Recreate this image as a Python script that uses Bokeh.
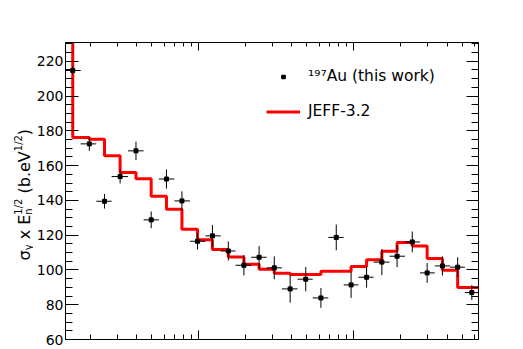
import math
from bokeh.plotting import figure
from bokeh.layouts import row
from bokeh.models import (Range1d, FixedTicker, LogAxis, LinearAxis, Legend,
                          LegendItem, ColumnDataSource)
from bokeh.core.properties import value
from bokeh.embed import file_html
from bokeh.resources import INLINE

# ---------------- data ----------------
# measured points: energy bin centre, bin edges, value, error
au_x = [1.547, 1.978, 2.478, 3.124, 3.953, 4.953, 6.214, 7.818, 9.853, 12.29,
        15.56, 19.61, 24.57, 30.77, 38.95, 49.09, 61.5, 77.2, 96.2, 121.1,
        151.9, 190.4, 238.5, 297.4, 373.3, 467.7, 577.2]
au_edges = [1.389, 1.740, 2.193, 2.755, 3.513, 4.429, 5.547, 6.992, 8.796, 11.09,
            13.89, 17.32, 21.83, 27.43, 34.46, 43.44, 54.42, 68.59, 86.20, 107.2,
            134.3, 170.0, 214.1, 267.2, 333.2, 417.4, 520.8, 650.0]
au_y = [214.7, 172.5, 139.5, 153.7, 168.5, 128.8, 152.3, 139.7, 116.5, 119.6,
        110.9, 102.7, 107.3, 101.2, 89.1, 94.7, 83.9, 118.7, 91.4, 95.8,
        104.5, 107.9, 116.1, 98.3, 102.3, 101.6, 87.0]
au_err = [2.5, 4.0, 4.2, 4.0, 5.3, 4.8, 5.5, 5.5, 4.8, 6.2,
          5.5, 5.9, 6.4, 6.6, 7.9, 7.0, 5.7, 7.4, 7.5, 6.0,
          7.5, 6.3, 6.0, 5.7, 5.5, 5.7, 4.3]

# JEFF-3.2 evaluation (step histogram): left edges and levels
jeff_edges = [1.2, 1.547, 1.978, 2.478, 3.124, 3.953, 4.953, 6.214, 7.818, 9.853,
              12.29, 15.56, 19.61, 24.57, 30.77, 38.95, 49.09, 61.5, 77.2, 96.2,
              121.1, 151.9, 190.4, 238.5, 297.4, 373.3, 467.7, 577.2, 700.0]
jeff_y = [260.0, 176.2, 175.2, 165.6, 156.0, 152.4, 142.4, 134.9, 123.4, 117.3,
          111.8, 107.5, 103.3, 100.4, 98.1, 97.4, 97.4, 99.3, 99.3, 102.0,
          105.8, 110.8, 115.8, 113.7, 106.6, 99.8, 89.9, 89.9, 89.9]

y_major_ticks = [60, 80, 100, 120, 140, 160, 180, 200, 220]
y_minor_ticks = list(range(60, 231, 5))
x_major_ticks = [10, 100]
x_minor_ticks = [m * 10 ** k for k in (0, 1, 2) for m in range(2, 10)]

legend_au = "¹⁹⁷Au (this work)"
legend_jeff = "JEFF-3.2"

# y-axis title pieces: (text, kind) kind = main / sub / sup
NB = "\u00a0"
title_pieces = [("σ", "main"), ("γ", "sub"), (NB + "x E", "main"), ("n", "sub"),
                ("1/2", "sup"), (NB + "(b.eV", "main"), ("1/2", "sup"), (")", "main")]

FONT = "DejaVu Sans"
H = 346
TOP, BOTTOM = 42, 7

# ---------------- title strip (left) ----------------
TW = 33
tf = figure(width=TW, height=H, x_range=Range1d(0, TW),
            y_range=Range1d(BOTTOM, H - TOP),
            title=None, output_backend="svg", toolbar_location=None,
            x_axis_location=None, y_axis_location=None,
            min_border_left=0, min_border_right=0,
            min_border_top=TOP, min_border_bottom=BOTTOM,
            outline_line_color=None)
tf.xgrid.visible = False
tf.ygrid.visible = False

base_x = {"main": 24.0, "sub": 27.5, "sup": 17.5}
sizes = {"main": 16, "sub": 10, "sup": 10}
avg_w = {"σ": 0.634, "γ": 0.592, NB + "x E": 1.86, "n": 0.634, "1/2": 1.609,
         NB + "(b.eV": 2.96, ")": 0.39}
pos = H - 260.0          # start of the title (bottom end), in strip coords
for txt, kind in title_pieces:
    tf.text(x=[base_x[kind]], y=[pos], text=[txt], angle=math.pi / 2,
            text_font=value(FONT), text_font_size=value(f"{sizes[kind]}px"),
            text_align="left", text_baseline="alphabetic", text_color="black")
    if not (kind == "sub" and txt == "n"):
        pos += avg_w[txt] * sizes[kind]

# ---------------- main figure ----------------
p = figure(width=490, height=H, x_axis_type="log",
           x_range=Range1d(1.389, 637.3), y_range=Range1d(60, 230.8),
           output_backend="svg", toolbar_location=None,
           min_border_left=62 - TW, min_border_right=490 - (62 - TW) - 416,
           min_border_top=TOP, min_border_bottom=BOTTOM)
p.xgrid.visible = False
p.ygrid.visible = False
p.outline_line_color = "black"
p.outline_line_width = 1


def style_axis(ax, ticker, major_in, minor_in, labels):
    ax.ticker = ticker
    ax.axis_line_color = "black"
    ax.major_tick_line_color = "black"
    ax.minor_tick_line_color = "black"
    ax.major_tick_out = 0
    ax.minor_tick_out = 0
    ax.major_tick_in = major_in
    ax.minor_tick_in = minor_in
    if labels:
        ax.major_label_text_font = FONT
        ax.major_label_text_font_size = "14px"
        ax.major_label_text_color = "black"
        ax.major_label_standoff = 2
    else:
        ax.major_label_text_font_size = "1px"
        ax.major_label_text_alpha = 0
        ax.major_label_standoff = 0


style_axis(p.xaxis[0], FixedTicker(ticks=x_major_ticks, minor_ticks=x_minor_ticks), 9, 5, False)
style_axis(p.yaxis[0], FixedTicker(ticks=y_major_ticks, minor_ticks=y_minor_ticks), 13, 7, True)
top_ax = LogAxis()
style_axis(top_ax, FixedTicker(ticks=x_major_ticks, minor_ticks=x_minor_ticks), 8, 4, False)
p.add_layout(top_ax, "above")
right_ax = LinearAxis()
style_axis(right_ax, FixedTicker(ticks=y_major_ticks, minor_ticks=y_minor_ticks), 12, 7, False)
p.add_layout(right_ax, "right")

# JEFF step
jeff = p.step(x=jeff_edges, y=jeff_y, mode="after", line_color="#ff0000", line_width=3)

# data with error bars
src = ColumnDataSource(dict(
    x=au_x, y=au_y,
    xlo=au_edges[:-1], xhi=au_edges[1:],
    ylo=[v - e for v, e in zip(au_y, au_err)],
    yhi=[v + e for v, e in zip(au_y, au_err)],
))
p.segment(x0="xlo", y0="y", x1="xhi", y1="y", source=src, line_color="black", line_width=1)
p.segment(x0="x", y0="ylo", x1="x", y1="yhi", source=src, line_color="black", line_width=1)
pts = p.scatter(x="x", y="y", source=src, marker="square", size=4,
                fill_color="black", line_color="black")

legend = Legend(items=[LegendItem(label=legend_au, renderers=[pts]),
                       LegendItem(label=legend_jeff, renderers=[jeff])],
                location=(201, 218), orientation="vertical",
                glyph_width=34, glyph_height=9, label_height=20,
                label_standoff=8, spacing=15, padding=0, margin=0,
                label_text_font=FONT, label_text_font_size="15.5px",
                label_text_color="black",
                background_fill_alpha=0, border_line_alpha=0)
p.add_layout(legend)

layout = row(tf, p, spacing=0)
open("out.html", "w").write(file_html(layout, INLINE))
